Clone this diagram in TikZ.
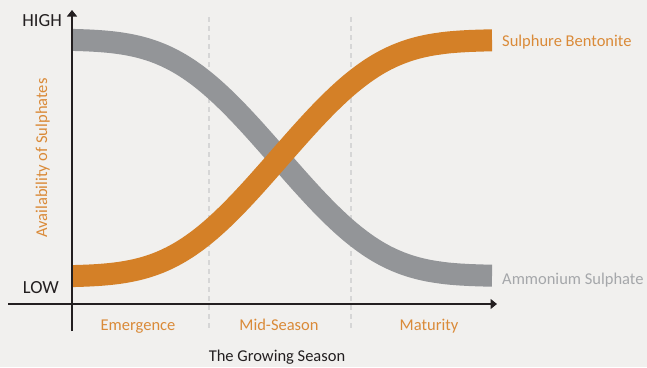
\documentclass[tikz,border=0pt]{standalone}
\usepackage{fontspec}
\setmainfont{Carlito}
\usetikzlibrary{arrows.meta}
\definecolor{bg}{HTML}{F1F0EE}
\definecolor{curveorange}{HTML}{D48027}
\definecolor{textorange}{HTML}{DA8A38}
\definecolor{curvegray}{HTML}{939598}
\definecolor{labelgray}{HTML}{A5A7AA}
\definecolor{axisblack}{HTML}{231F20}
\definecolor{dashgray}{HTML}{D6D6D6}
\tikzset{
  declare function={uu(\x)=(\x-279)/210; sg(\x)=1/(1+exp(-4.06*(uu(\x)+0.6*uu(\x)*uu(\x)*uu(\x))));},
  axisline/.style={draw=axisblack, line width=1.3pt, -{Triangle[length=6.5pt,width=10pt]}},
  divider/.style={draw=dashgray, line width=1.5pt, dash pattern=on 5pt off 4pt},
  band/.style={line width=22pt, line cap=butt},
  lbl/.style={inner sep=0pt, font=\fontsize{16.5}{19}\selectfont},
  biglbl/.style={inner sep=0pt, font=\fontsize{18.5}{22}\selectfont, text=axisblack},
}
\begin{document}
\begin{tikzpicture}[x=1pt,y=-1pt]
\fill[bg] (0,0) rectangle (647,367);
\useasboundingbox (0,0) rectangle (647,367);
% dividers
\coordinate (d1t) at (209,17); \coordinate (d1b) at (209,331);
\coordinate (d2t) at (351,17); \coordinate (d2b) at (351,331);
\draw[divider] (d1t) -- (d1b);
\draw[divider] (d2t) -- (d2b);
% curves
\draw[band, curvegray] plot[domain=72:492, samples=120] (\x, {39.5+236.5*sg(\x)});
\draw[band, curveorange] plot[domain=72:492, samples=120] (\x, {276.5-236.5*sg(\x)});
% axes
\coordinate (yb) at (72,331); \coordinate (yt) at (72,10);
\coordinate (xl) at (8,304); \coordinate (xr) at (497,304);
\draw[axisline] (yb) -- (yt);
\draw[axisline] (xl) -- (xr);
% labels
\node[biglbl, anchor=base east] (high) at (62,26) {HIGH};
\node[biglbl, anchor=base east] (low) at (59,293) {LOW};
\node[lbl, text=textorange, anchor=base west] (sb) at (502,46) {Sulphure Bentonite};
\node[lbl, text=labelgray, anchor=base west] (as) at (502,284) {Ammonium Sulphate};
\node[lbl, text=textorange, anchor=base] (em) at (138,330) {Emergence};
\node[lbl, text=textorange, anchor=base] (ms) at (279,330) {Mid-Season};
\node[lbl, text=textorange, anchor=base] (ma) at (429,330) {Maturity};
\node[lbl, text=axisblack, anchor=base] (gs) at (277,361) {The Growing Season};
\node[lbl, text=textorange, anchor=base, rotate=90] (av) at (47,158) {Availability of Sulphates};
\end{tikzpicture}
\end{document}
